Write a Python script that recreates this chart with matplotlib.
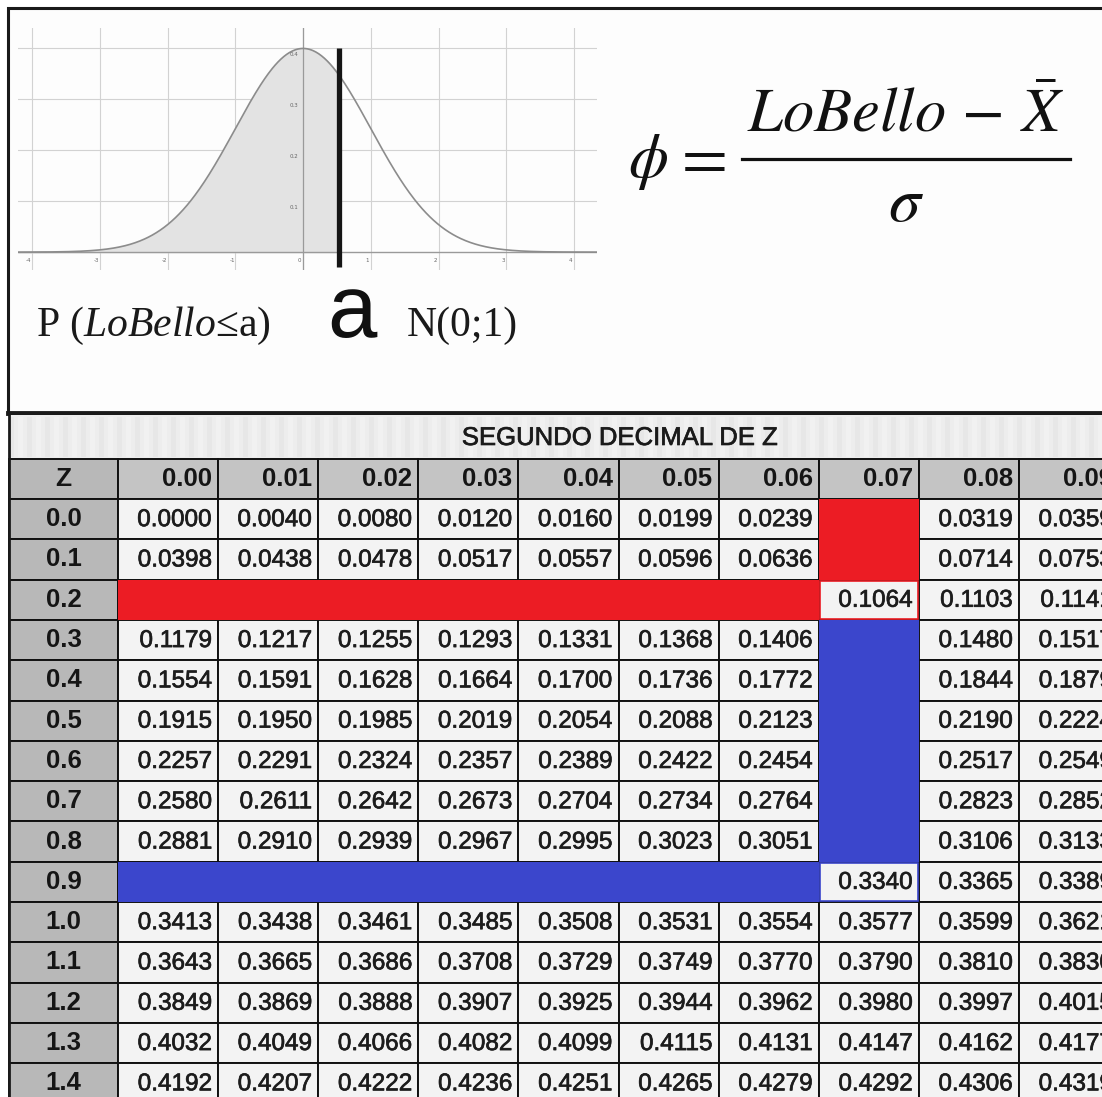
import numpy as np
import matplotlib
matplotlib.use("Agg")
import matplotlib.pyplot as plt
import matplotlib.patheffects as pe
from matplotlib.patches import Rectangle

plt.rcParams['mathtext.fontset'] = 'custom'
plt.rcParams['mathtext.rm'] = 'Liberation Serif'
plt.rcParams['mathtext.it'] = 'Liberation Serif:italic'

# ---------------- data ----------------
title_text = "SEGUNDO DECIMAL DE Z"
z_header = "Z"
z_labels = ["0.0", "0.1", "0.2", "0.3", "0.4", "0.5", "0.6", "0.7",
            "0.8", "0.9", "1.0", "1.1", "1.2", "1.3", "1.4"]
col_labels = ["0.00", "0.01", "0.02", "0.03", "0.04",
              "0.05", "0.06", "0.07", "0.08", "0.09"]
N = None
table_values = [
    ["0.0000", "0.0040", "0.0080", "0.0120", "0.0160", "0.0199", "0.0239", N, "0.0319", "0.0359"],
    ["0.0398", "0.0438", "0.0478", "0.0517", "0.0557", "0.0596", "0.0636", N, "0.0714", "0.0753"],
    [N, N, N, N, N, N, N, "0.1064", "0.1103", "0.1141"],
    ["0.1179", "0.1217", "0.1255", "0.1293", "0.1331", "0.1368", "0.1406", N, "0.1480", "0.1517"],
    ["0.1554", "0.1591", "0.1628", "0.1664", "0.1700", "0.1736", "0.1772", N, "0.1844", "0.1879"],
    ["0.1915", "0.1950", "0.1985", "0.2019", "0.2054", "0.2088", "0.2123", N, "0.2190", "0.2224"],
    ["0.2257", "0.2291", "0.2324", "0.2357", "0.2389", "0.2422", "0.2454", N, "0.2517", "0.2549"],
    ["0.2580", "0.2611", "0.2642", "0.2673", "0.2704", "0.2734", "0.2764", N, "0.2823", "0.2852"],
    ["0.2881", "0.2910", "0.2939", "0.2967", "0.2995", "0.3023", "0.3051", N, "0.3106", "0.3133"],
    [N, N, N, N, N, N, N, "0.3340", "0.3365", "0.3389"],
    ["0.3413", "0.3438", "0.3461", "0.3485", "0.3508", "0.3531", "0.3554", "0.3577", "0.3599", "0.3621"],
    ["0.3643", "0.3665", "0.3686", "0.3708", "0.3729", "0.3749", "0.3770", "0.3790", "0.3810", "0.3830"],
    ["0.3849", "0.3869", "0.3888", "0.3907", "0.3925", "0.3944", "0.3962", "0.3980", "0.3997", "0.4015"],
    ["0.4032", "0.4049", "0.4066", "0.4082", "0.4099", "0.4115", "0.4131", "0.4147", "0.4162", "0.4177"],
    ["0.4192", "0.4207", "0.4222", "0.4236", "0.4251", "0.4265", "0.4279", "0.4292", "0.4306", "0.4319"],
]
# highlighted blocks: (first row, last row, first col, last col)
red_blocks = [(2, 2, 0, 6), (0, 1, 7, 7)]
blue_blocks = [(9, 9, 0, 6), (3, 8, 7, 7)]
red_outline_cell = (2, 7)
blue_outline_cell = (9, 7)

# normal curve parameters
mu, sigma = 0.0, 1.0
a_value = 0.53
x_ticks = [-4, -3, -2, -1, 0, 1, 2, 3, 4]
y_ticks = [0.1, 0.2, 0.3, 0.4]

# ---------------- figure ----------------
W, H = 1102, 1097
fig = plt.figure(figsize=(W / 100, H / 100), dpi=100)
fig.patch.set_facecolor("white")
ax = fig.add_axes([0, 0, 1, 1])
ax.set_xlim(0, W)
ax.set_ylim(H, 0)
ax.axis("off")

RED = "#ec1c24"
BLUE = "#3b46cc"
Z_GRAY = "#b8b8b8"
HDR_GRAY = "#c4c4c4"
CELL_BG = "#f3f3f3"
heavy = [pe.withStroke(linewidth=0.5, foreground="#222")]

# top box
ax.add_patch(Rectangle((8, 8), W + 20, 405, facecolor="#fdfdfd",
                       edgecolor="#1a1a1a", lw=2.2, zorder=1))
ax.plot([8, W], [413, 413], color="#1a1a1a", lw=3.5, zorder=2)

# ---------------- table ----------------
TX0 = 9
ZX1 = 118
CW = 100.1
TITLE_Y0, TITLE_Y1 = 415, 459
HDR_H = 40
ROW_H = 40.3
ROW0 = TITLE_Y1 + HDR_H


def col_x(c):
    return ZX1 + c * CW


def row_y(r):
    return ROW0 + r * ROW_H


# title band with light scan stripes
ax.add_patch(Rectangle((TX0, TITLE_Y0), W, TITLE_Y1 - TITLE_Y0,
                       facecolor="#ededed", edgecolor="none", zorder=2))
for i, xs in enumerate(np.arange(TX0, W, 9)):
    ax.add_patch(Rectangle((xs, TITLE_Y0 + 2), 4.5, TITLE_Y1 - TITLE_Y0 - 4,
                           facecolor="#e4e4e4" if i % 2 == 0 else "#f4f4f4",
                           edgecolor="none", alpha=0.6, zorder=2))
ax.plot([TX0, TX0], [TITLE_Y0, H], color="#1a1a1a", lw=2, zorder=6)
ax.text(620, (TITLE_Y0 + TITLE_Y1) / 2 + 1, title_text, ha="center", va="center",
        fontsize=18.5, family="Liberation Sans", color="#1a1a1a", zorder=7,
        path_effects=heavy)

LW = 1.4
# header row
ax.add_patch(Rectangle((TX0, TITLE_Y1), ZX1 - TX0, HDR_H, facecolor=Z_GRAY,
                       edgecolor="#111", lw=LW, zorder=3))
ax.text((TX0 + ZX1) / 2, TITLE_Y1 + HDR_H / 2, z_header, ha="center", va="center",
        fontsize=19, fontweight="bold", family="Liberation Sans", color="#151515", zorder=7)
for c, lab in enumerate(col_labels):
    ax.add_patch(Rectangle((col_x(c), TITLE_Y1), CW, HDR_H, facecolor=HDR_GRAY,
                           edgecolor="#111", lw=LW, zorder=3))
    ax.text(col_x(c) + CW - 6, TITLE_Y1 + HDR_H / 2, lab, ha="right", va="center",
            fontsize=18.5, fontweight="bold", family="Liberation Sans",
            color="#151515", zorder=7, clip_on=True)

# body rows
for r, zl in enumerate(z_labels):
    y0 = row_y(r)
    ax.add_patch(Rectangle((TX0, y0), ZX1 - TX0, ROW_H, facecolor=Z_GRAY,
                           edgecolor="#111", lw=LW, zorder=3))
    ax.text((TX0 + ZX1) / 2, y0 + ROW_H / 2, zl, ha="center", va="center",
            fontsize=18.5, fontweight="bold", family="Liberation Sans",
            color="#151515", zorder=7)
    for c, val in enumerate(table_values[r]):
        ax.add_patch(Rectangle((col_x(c), y0), CW, ROW_H, facecolor=CELL_BG,
                               edgecolor="#111", lw=LW, zorder=3))
        if val is not None:
            ax.text(col_x(c) + CW - 6, y0 + ROW_H / 2 + 1, val, ha="right", va="center",
                    fontsize=17.5, family="Liberation Sans", color="#1c1c1c",
                    zorder=7, clip_on=True, path_effects=heavy)

for blocks, colr in ((red_blocks, RED), (blue_blocks, BLUE)):
    for r0, r1, c0, c1 in blocks:
        ax.add_patch(Rectangle((col_x(c0), row_y(r0)), col_x(c1 + 1) - col_x(c0),
                               row_y(r1 + 1) - row_y(r0), facecolor=colr,
                               edgecolor="none", zorder=5))

for (r, c), colr in ((red_outline_cell, RED), (blue_outline_cell, BLUE)):
    ax.add_patch(Rectangle((col_x(c) + 1, row_y(r) + 1), CW - 2, ROW_H - 2,
                           facecolor="none", edgecolor=colr, lw=1.2, zorder=6))

# ---------------- normal curve inset ----------------
PX_L, PX_R, PX_T, PX_B = 18, 597, 28, 270
cax = fig.add_axes([PX_L / W, 1 - PX_B / H, (PX_R - PX_L) / W, (PX_B - PX_T) / H])
cax.set_facecolor("none")
cax.set_xlim(-4.21, 4.34)
cax.set_ylim(-0.035, 0.439)
for s in cax.spines.values():
    s.set_visible(False)
cax.set_xticks([])
cax.set_yticks([])
for xv in x_ticks:
    cax.axvline(xv, color="#d2d2d2", lw=0.8, zorder=1)
for yv in y_ticks:
    cax.axhline(yv, color="#d2d2d2", lw=0.8, zorder=1)
cax.axhline(0, color="#9a9a9a", lw=1.0, zorder=2)
cax.axvline(0, color="#9a9a9a", lw=0.9, zorder=2)
xs = np.linspace(-4.21, 4.34, 600)
pdf = np.exp(-0.5 * ((xs - mu) / sigma) ** 2) / (sigma * np.sqrt(2 * np.pi))
cax.fill_between(xs, 0, pdf, where=xs <= a_value, color="#e3e3e3", zorder=1.5)
cax.plot(xs, pdf, color="#8c8c8c", lw=1.2, zorder=3)
cax.plot([a_value, a_value], [-0.03, 0.40], color="#151515", lw=3.8,
         solid_capstyle="butt", zorder=4)
for xv in x_ticks:
    cax.text(xv - 0.05, -0.016, f"{xv}", fontsize=4, color="#666", ha="center",
             va="center", zorder=3)
for yv in y_ticks:
    cax.text(-0.07, yv - 0.012, f"{yv:.1f}", fontsize=4, color="#666", ha="right",
             va="center", zorder=3)

# ---------------- labels under curve ----------------
serif = ["Liberation Serif", "DejaVu Serif"]
ax.text(36, 336, r"P ($LoBello$≤a)", fontsize=30, family=serif, color="#1a1a1a",
        va="baseline", ha="left", math_fontfamily="custom", zorder=7)
ax.text(352, 337, "a", fontsize=64, family="Liberation Sans", color="#111",
        va="baseline", ha="center", zorder=7)
ax.text(407, 336, "N(0;1)", fontsize=30, family=serif, color="#1a1a1a",
        va="baseline", ha="left", zorder=7)

# ---------------- formula ----------------
FX_C = 906
ax.text(FX_C, 132, r"$LoBello\,-\,\bar{X}$", fontsize=45, math_fontfamily="stix",
        ha="center", va="baseline", color="#111", zorder=7)
ax.plot([742, 1070], [159, 159], color="#111", lw=2.3, zorder=7)
ax.text(FX_C, 221, r"$\sigma$", fontsize=46, math_fontfamily="stix",
        ha="center", va="baseline", color="#111", zorder=7)
ax.text(628, 177, r"$\phi$", fontsize=46, math_fontfamily="stix",
        ha="left", va="baseline", color="#111", zorder=7)
ax.text(699, 177, r"$=$", fontsize=48, math_fontfamily="stix",
        ha="center", va="baseline", color="#111", zorder=7)

fig.savefig("out.png", dpi=100, facecolor="white")
